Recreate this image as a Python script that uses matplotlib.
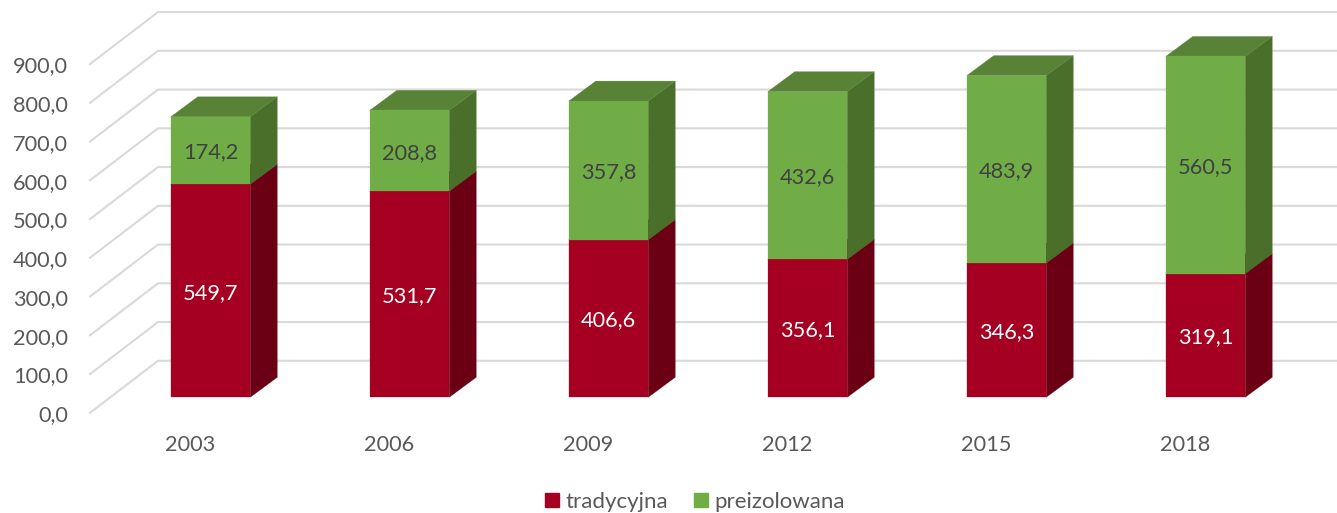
import matplotlib
import numpy as np
from matplotlib import pyplot as plt
from matplotlib.patches import Patch

matplotlib.use('Agg')

years = ['2003', '2006', '2009', '2012', '2015', '2018']
tradycyjna = [549.7, 531.7, 406.6, 356.1, 346.3, 319.1]
preizolowana = [174.2, 208.8, 357.8, 432.6, 483.9, 560.5]
grid_values = [0, 100, 200, 300, 400, 500, 600, 700, 800, 900]
grid_labels = ['0,0', '100,0', '200,0', '300,0', '400,0', '500,0', '600,0', '700,0', '800,0', '900,0']

plt.rcParams['font.family'] = ['Lato', 'DejaVu Sans']

W, H = 1337, 513
PX_Y = 0.3875  # pixels per value unit
PX_X = 199.0  # pixels per category
X0 = 210.5  # pixel of first bar centre
Y0 = 397.3  # pixel of value 0 on the bar front
FS = 15.7

fig = plt.figure(figsize=(W / 100, H / 100), dpi=100)
ax = fig.add_axes([0, 0, 1, 1])
ax.set_xlim(-X0 / PX_X, (W - X0) / PX_X)
ax.set_ylim(-(H - Y0) / PX_Y, Y0 / PX_Y)
ax.axis('off')


def px_x(p):
    return p / PX_X


def px_y(p):
    return p / PX_Y


# walls: oblique floor line then flat line to the right edge
gx0, gx1, gx2 = px_x(90 - X0), px_x(158 - X0), px_x(W - X0)
gd0, gd1 = px_y(-15.5), px_y(36.5)
for v in grid_values:
    ax.plot([gx0, gx1, gx2], [v + gd0, v + gd1, v + gd1], color='#D9D9D9', lw=1.5,
            solid_joinstyle='miter', zorder=1)
    ax.text(px_x(68 - X0), v + gd0 - px_y(2.5), grid_labels[grid_values.index(v)], ha='right', va='center',
            fontsize=FS, color='#595959')

bar_w = px_x(79.5)
dx, dy = px_x(27), px_y(20)


def box(x, bottom, top, front, side, roof, z):
    l, r = x - bar_w / 2, x + bar_w / 2
    ax.fill([l, r, r, l], [bottom, bottom, top, top], color=front, lw=0.2, zorder=z + 0.2)
    ax.fill([r, r + dx, r + dx, r], [bottom, bottom + dy, top + dy, top], color=side, lw=0.2, zorder=z)
    ax.fill([l, r, r + dx, l + dx], [top, top, top + dy, top + dy], color=roof, lw=0.2, zorder=z + 0.1)


for i in range(len(years)):
    t, p = tradycyjna[i], preizolowana[i]
    box(i, 0, t, '#A50021', '#6B0015', '#7C0019', 2)
    box(i, t, t + p, '#70AD47', '#4A6F2B', '#588235', 3)
    ax.text(i, t / 2 - px_y(2), f'{t:.1f}'.replace('.', ','), ha='center', va='center', fontsize=FS,
            color='white', zorder=5)
    ax.text(i, t + p / 2 - px_y(2), f'{p:.1f}'.replace('.', ','), ha='center', va='center', fontsize=FS,
            color='#404040', zorder=5)
    ax.text(i - px_x(20.5), px_y(Y0 - 445), years[i], ha='center', va='center', fontsize=FS,
            color='#595959')

handles = [Patch(color='#A50021', label='tradycyjna'), Patch(color='#70AD47', label='preizolowana')]
fig.legend(handles=handles, loc='center', bbox_to_anchor=(695 / W, 1 - 502 / H), ncol=2, frameon=False,
           fontsize=16, labelcolor='#595959', handlelength=0.63, handleheight=0.63, handletextpad=0.27,
           columnspacing=1.2)

plt.savefig('out.png', dpi=100)
plt.close()
